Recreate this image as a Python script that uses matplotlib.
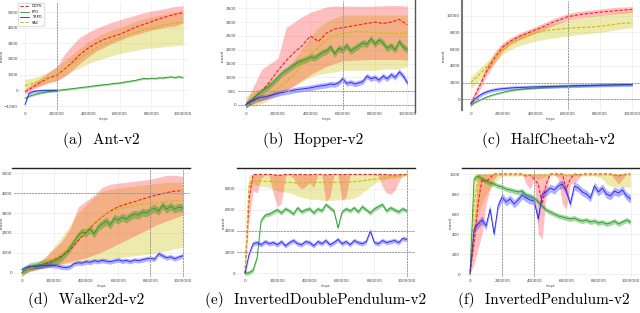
import numpy as np
import matplotlib
matplotlib.use("Agg")
import matplotlib.pyplot as plt

W, H = 640, 313

methods = ["DDPG", "PPO", "TRPO", "SAC"]
captions = ["(a)  Ant-v2", "(b)  Hopper-v2", "(c)  HalfCheetah-v2",
            "(d)  Walker2d-v2", "(e)  InvertedDoublePendulum-v2", "(f)  InvertedPendulum-v2"]
x_ticks = [0, 200000, 400000, 600000, 800000, 1000000]

# ---- Ant-v2 ----
ant_red = [-100, 200, 530, 800, 950, 1350, 1800, 2300, 2700, 3000, 3250, 3420, 3580, 3800, 4030, 4200, 4380, 4560, 4720, 4850, 4950]
ant_red_lo = [-300, 50, 300, 500, 600, 900, 1300, 1750, 2150, 2500, 2750, 3000, 3200, 3400, 3550, 3700, 3850, 3950, 4050, 4100, 4300]
ant_red_hi = [100, 450, 800, 1150, 1500, 2300, 2900, 3400, 3700, 3950, 4150, 4350, 4500, 4650, 4800, 4950, 5050, 5150, 5250, 5350, 5400]
ant_yel = [300, 450, 600, 800, 1000, 1350, 1700, 2050, 2400, 2700, 2950, 3150, 3350, 3550, 3700, 3850, 3950, 4100, 4200, 4300, 4330]
ant_yel_lo = [0, 150, 300, 450, 600, 900, 1200, 1450, 1700, 1900, 2050, 2200, 2350, 2450, 2550, 2650, 2700, 2750, 2800, 2850, 2900]
ant_yel_hi = [700, 800, 950, 1200, 1500, 1900, 2300, 2700, 3100, 3400, 3650, 3850, 4000, 4200, 4400, 4550, 4700, 4800, 4900, 5000, 5100]
ant_green = [-500, -380, -300, -230, -170, -120, -80, -40, -10, 20, 50, 80, 110, 140, 170, 200, 230, 270, 300, 330, 360,
             380, 420, 450, 470, 520, 560, 600, 640, 700, 760, 740, 780, 760, 800, 790, 830, 860, 820, 870, 820]
ant_green_sd = 60
ant_blue = [-900, -200, -80, -40, -20, -10, 0, 0, 0]
ant_blue_end = 200000
ant_blue_sd = 100

# ---- Hopper-v2 ----
hop_red = [0, 250, 500, 850, 1250, 1600, 1900, 2150, 2500, 2300, 2600, 2750, 2800, 2850, 2900, 2950, 3000, 2950, 3000, 3100, 2900]
hop_red_lo = [-100, 50, 150, 300, 450, 550, 700, 900, 1100, 1250, 1400, 1500, 1600, 1620, 1630, 1640, 1650, 1650, 1650, 1650, 1620]
hop_red_hi = [100, 700, 1300, 1500, 1700, 2800, 3000, 3200, 3350, 3450, 3550, 3580, 3580, 3580, 3570, 3570, 3580, 3590, 3600, 3600, 3580]
hop_yel = [0, 100, 250, 400, 600, 850, 1100, 1450, 1800, 2100, 2350, 2500, 2600, 2640, 2650, 2650, 2620, 2600, 2600, 2600, 2600]
hop_yel_lo = [0, -50, 50, 200, 350, 500, 700, 850, 1000, 1100, 1150, 1200, 1250, 1250, 1250, 1250, 1250, 1300, 1300, 1300, 1400]
hop_yel_hi = [300, 500, 600, 750, 1000, 1300, 1650, 2050, 2450, 2800, 3000, 3150, 3250, 3260, 3260, 3260, 3260, 3260, 3260, 3260, 3260]
hop_green = [0, 120, 250, 380, 500, 600, 720, 850, 1000, 1150, 1250, 1350, 1450, 1550, 1600, 1650, 1750, 1700, 1800, 1900, 1950,
             2100, 1850, 2050, 2000, 2150, 1950, 2050, 2150, 2250, 2200, 2400, 2200, 2350, 2250, 2050, 2150, 2000, 2300, 2100, 2000]
hop_green_sd = 120
hop_blue = [0, 100, 180, 240, 280, 300, 340, 380, 420, 450, 480, 500, 540, 560, 580, 600, 620, 650, 680, 700, 720,
            760, 740, 800, 950, 780, 820, 760, 800, 850, 1050, 950, 1000, 900, 1050, 950, 1100, 1000, 1200, 1050, 800]
hop_blue_sd = 100

# ---- HalfCheetah-v2 ----
hc_red = [-600, 1400, 3400, 5000, 6300, 7000, 7500, 7900, 8300, 8700, 9150, 9500, 9870, 10050, 10200, 10300, 10430, 10500, 10600, 10680, 10750]
hc_red_lo = [-1000, 900, 2800, 4400, 5800, 6600, 7100, 7500, 7900, 8300, 8750, 9100, 9450, 9650, 9800, 9900, 10050, 10150, 10250, 10300, 10400]
hc_red_hi = [-200, 1900, 4000, 5700, 6800, 7400, 7900, 8300, 8700, 9100, 9550, 9900, 10250, 10450, 10600, 10700, 10800, 10900, 11000, 11050, 11100]
hc_yel = [2000, 2900, 3900, 5000, 6000, 6700, 7200, 7600, 7900, 8150, 8300, 8400, 8500, 8550, 8600, 8650, 8750, 8850, 9000, 9100, 9150]
hc_yel_lo = [1200, 2200, 3300, 4400, 5400, 6000, 6400, 6700, 6950, 7150, 7300, 7450, 7550, 7700, 7800, 7900, 8000, 8150, 8300, 8450, 8600]
hc_yel_hi = [2700, 3600, 4500, 5500, 6500, 7200, 7700, 8100, 8450, 8750, 9000, 9250, 9450, 9650, 9800, 9950, 10100, 10250, 10400, 10500, 10600]
hc_green = [-700, -400, -150, 80, 280, 450, 600, 720, 850, 950, 1050, 1120, 1180, 1230, 1280, 1320, 1350, 1380, 1410, 1440, 1470,
            1490, 1510, 1530, 1550, 1570, 1590, 1600, 1620, 1630, 1650, 1660, 1680, 1690, 1700, 1710, 1730, 1740, 1750, 1760, 1780]
hc_green_sd = 100
hc_blue = [-450, 0, 400, 700, 900, 1050, 1150, 1230, 1280, 1320, 1360, 1390, 1410, 1430, 1450, 1470, 1490, 1500, 1520, 1540, 1550,
           1560, 1580, 1590, 1600, 1620, 1630, 1640, 1650, 1660, 1670, 1690, 1700, 1710, 1720, 1720, 1730, 1740, 1750, 1740, 1750]
hc_blue_sd = 220

# ---- Walker2d-v2 ----
wk_red = [0, 200, 380, 480, 640, 850, 1140, 1600, 2060, 2450, 2820, 3100, 3320, 3450, 3570, 3700, 3830, 3930, 4030, 4100, 4130]
wk_red_lo = [-100, 50, 150, 250, 350, 450, 550, 650, 750, 900, 1050, 1250, 1450, 1650, 1850, 2050, 2250, 2450, 2600, 2750, 2900]
wk_red_hi = [100, 300, 500, 800, 1200, 1600, 2200, 3300, 3600, 3900, 4300, 4450, 4500, 4550, 4600, 4650, 4700, 4800, 4900, 4900, 4850]
wk_yel = [0, 200, 400, 550, 700, 950, 1300, 1700, 2100, 2500, 2850, 3050, 3200, 3300, 3380, 3440, 3490, 3530, 3570, 3620, 3660]
wk_yel_lo = [-50, 100, 200, 300, 350, 400, 450, 500, 550, 600, 650, 700, 750, 800, 850, 900, 950, 1000, 1100, 1200, 1300]
wk_yel_hi = [100, 300, 500, 800, 1300, 1800, 2400, 3000, 3400, 3800, 4100, 4200, 4250, 4300, 4350, 4400, 4450, 4500, 4550, 4550, 4550]
wk_green = [0, 150, 300, 340, 380, 420, 460, 500, 560, 650, 800, 1000, 1250, 1550, 1850, 2050, 2000, 2200, 1950, 2300, 2450,
            2600, 2400, 2750, 2650, 2800, 2700, 2850, 2950, 2900, 3050, 3000, 3150, 3250, 3100, 3400, 3200, 3350, 3200, 3300, 3250]
wk_green_sd = 200
wk_blue = [150, 250, 300, 320, 330, 350, 370, 380, 360, 330, 280, 260, 300, 450, 500, 480, 550, 520, 600, 560, 620,
           580, 550, 600, 650, 580, 620, 560, 640, 600, 650, 700, 720, 680, 950, 850, 750, 800, 700, 780, 850]
wk_blue_sd = 120

# ---- InvertedDoublePendulum-v2 ----
idp_red = [0, 7000, 9350, 9340, 9350, 9350, 9350, 9340, 9250, 9280, 9350, 9350, 9340, 9320, 9350, 9330, 9320, 9350, 9350, 9350, 9300,
           9340, 9350, 9350, 9330, 9350, 9350, 9350, 9350, 9350, 9350, 9350, 9350, 9350, 9340, 9330, 9300, 9300, 9320, 9350, 9350]
idp_red_lo = [0, 5000, 7800, 7600, 9000, 9300, 9200, 7500, 6300, 6600, 9200, 9300, 9000, 8300, 8000, 8200, 8600, 8100, 9300, 9300, 6800,
              7200, 9300, 9300, 6900, 7200, 9300, 9300, 9300, 9300, 9300, 9300, 9300, 9200, 8200, 7600, 7500, 7800, 8600, 9300, 9300]
idp_red_hi = [0, 8500, 9380, 9380, 9380, 9380, 9380, 9380, 9380, 9380, 9380, 9380, 9380, 9380, 9380, 9380, 9380, 9380, 9380, 9380, 9380,
              9380, 9380, 9380, 9380, 9380, 9380, 9380, 9380, 9380, 9380, 9380, 9380, 9380, 9380, 9380, 9380, 9380, 9380, 9380, 9380]
idp_yel = [0, 8500, 8700, 8750, 8750, 8700, 8700, 8650, 8650, 8600, 8600, 8600, 8550, 8550, 8550, 8550, 8600, 8600, 8600, 8600, 8600,
           8600, 8600, 8600, 8600, 8600, 8650, 8650, 8700, 8750, 8800, 8850, 8900, 8950, 9000, 9050, 9100, 9150, 9200, 9250, 9300]
idp_yel_lo = [0, 8000, 8400, 8300, 8200, 8200, 8100, 7900, 7800, 7700, 7700, 7600, 7500, 7300, 7200, 7100, 7000, 7000, 7000, 6900, 6900,
              6900, 6900, 6950, 6950, 7000, 7000, 7100, 7300, 7600, 7900, 8200, 8500, 8700, 8800, 8900, 9000, 9000, 9050, 9100, 9200]
idp_yel_hi = [0, 9300, 9350, 9350, 9350, 9350, 9350, 9350, 9350, 9350, 9350, 9350, 9350, 9350, 9350, 9350, 9350, 9350, 9350, 9350, 9350,
              9350, 9350, 9350, 9350, 9350, 9350, 9350, 9350, 9350, 9350, 9350, 9350, 9350, 9350, 9350, 9350, 9350, 9350, 9350, 9350]
idp_green = [0, 50, 300, 1500, 5000, 5500, 5600, 5800, 6000, 5700, 6100, 5900, 5600, 6200, 5800, 6000, 6100, 5700, 6100, 5900, 6500,
             6200, 5900, 4300, 5800, 6100, 5900, 6200, 5800, 6300, 6000, 5700, 6100, 6300, 6500, 5900, 6200, 6000, 5800, 6100, 5900]
idp_green_sd = 200
idp_blue = [0, 1800, 2800, 2900, 2700, 3000, 2800, 2900, 2700, 3000, 2600, 2900, 3100, 2800, 2700, 3000, 2900, 2600, 3000, 2800, 3100,
            2700, 2900, 3200, 2800, 3000, 2700, 3100, 2900, 2800, 3000, 4000, 2900, 2800, 3100, 2900, 3000, 3100, 2900, 3300, 3200]
idp_blue_sd = 220

# ---- InvertedPendulum-v2 ----
ip_red = [20, 300, 700, 950, 920, 960, 1000, 1000, 1000, 1000, 1000, 1000, 1000, 1000, 980, 990, 950, 900, 700, 900, 1000,
          1000, 1000, 1000, 850, 950, 1000, 990, 1000, 1000, 1000, 1000, 1000, 1000, 1000, 1000, 990, 980, 990, 1000, 1000]
ip_red_lo = [0, 100, 250, 400, 700, 850, 950, 1000, 1000, 1000, 1000, 1000, 1000, 1000, 900, 850, 950, 400, 350, 800, 1000,
             1000, 950, 700, 650, 900, 900, 950, 1000, 1000, 1000, 1000, 1000, 1000, 1000, 1000, 950, 900, 950, 1000, 1000]
ip_red_hi = [50, 550, 1000, 1000, 1000, 1000, 1000, 1000, 1000, 1000, 1000, 1000, 1000, 1000, 1000, 1000, 1000, 1000, 1000, 1000, 1000,
             1000, 1000, 1000, 1000, 1000, 1000, 1000, 1000, 1000, 1000, 1000, 1000, 1000, 1000, 1000, 1000, 1000, 1000, 1000, 1000]
ip_yel = [20, 700, 950, 980, 990, 990, 990, 990, 990, 990, 990, 990, 990, 990, 990, 990, 990, 990, 990, 990, 990,
          990, 990, 990, 990, 990, 990, 990, 990, 990, 990, 990, 990, 990, 990, 990, 990, 990, 990, 990, 990]
ip_yel_lo = [0, 300, 600, 700, 800, 850, 900, 950, 980, 980, 980, 980, 980, 980, 980, 980, 960, 950, 960, 980, 980,
             980, 980, 980, 980, 980, 980, 980, 980, 980, 980, 980, 970, 950, 900, 880, 870, 870, 870, 870, 870]
ip_yel_hi = [50, 1000, 1000, 1000, 1000, 1000, 1000, 1000, 1000, 1000, 1000, 1000, 1000, 1000, 1000, 1000, 1000, 1000, 1000, 1000, 1000,
             1000, 1000, 1000, 1000, 1000, 1000, 1000, 1000, 1000, 1000, 1000, 1000, 1000, 1000, 1000, 1000, 1000, 1000, 1000, 1000]
ip_green = [0, 950, 980, 950, 930, 910, 900, 880, 870, 850, 840, 830, 820, 830, 790, 780, 760, 720, 680, 640, 620,
            600, 580, 570, 560, 550, 560, 540, 530, 540, 520, 530, 510, 520, 500, 510, 530, 500, 520, 540, 520]
ip_green_sd = 25
ip_blue = [0, 450, 500, 540, 480, 650, 400, 680, 770, 720, 750, 700, 740, 790, 760, 740, 730, 550, 800, 820, 860,
           840, 880, 900, 830, 700, 880, 860, 820, 800, 760, 880, 820, 860, 800, 780, 830, 810, 840, 780, 750]
ip_blue_sd = 40

# layout in pixels: axes rect (left, top, right, bottom), pixel of step 0 and 1e6,
# two y reference values with their pixel rows, and the y-label column
panels = [
    dict(rect=(20, 2, 188, 110), xpx=(25, 183), yref=(-1000, 106, 5000, 12), ylab_px=4,
         yticks=[-1000, 0, 1000, 2000, 3000, 4000, 5000],
         red=(ant_red, ant_red_lo, ant_red_hi), yel=(ant_yel, ant_yel_lo, ant_yel_hi),
         green=(ant_green, ant_green_sd, 1e6), blue=(ant_blue, ant_blue_sd, ant_blue_end),
         vl=[200000], hl=[], legend=True),
    dict(rect=(238, 1, 415, 110), xpx=(245.7, 407.3), yref=(0, 105, 3500, 8.3), ylab_px=225,
         yticks=[0, 500, 1000, 1500, 2000, 2500, 3000, 3500],
         red=(hop_red, hop_red_lo, hop_red_hi), yel=(hop_yel, hop_yel_lo, hop_yel_hi),
         green=(hop_green, hop_green_sd, 1e6), blue=(hop_blue, hop_blue_sd, 1e6),
         vl=[600000], hl=[0, 500], legend=False),
    dict(rect=(462, 1, 640, 110), xpx=(470.7, 632.3), yref=(0, 99.3, 10000, 15.7), ylab_px=446,
         yticks=[0, 2000, 4000, 6000, 8000, 10000],
         red=(hc_red, hc_red_lo, hc_red_hi), yel=(hc_yel, hc_yel_lo, hc_yel_hi),
         green=(hc_green, hc_green_sd, 1e6), blue=(hc_blue, hc_blue_sd, 1e6),
         vl=[600000], hl=[0, 2000], legend=False),
    dict(rect=(14, 169, 190, 277), xpx=(21.7, 182.7), yref=(0, 272.7, 5000, 173.3), ylab_px=4,
         yticks=[0, 1000, 2000, 3000, 4000, 5000],
         red=(wk_red, wk_red_lo, wk_red_hi), yel=(wk_yel, wk_yel_lo, wk_yel_hi),
         green=(wk_green, wk_green_sd, 1e6), blue=(wk_blue, wk_blue_sd, 1e6),
         vl=[800000, 1000000], hl=[4000], legend=False),
    dict(rect=(237, 169, 415, 277), xpx=(245, 406.7), yref=(0, 273.3, 8000, 188.7), ylab_px=226,
         yticks=[0, 2000, 4000, 6000, 8000],
         red=(idp_red, idp_red_lo, idp_red_hi), yel=(idp_yel, idp_yel_lo, idp_yel_hi),
         green=(idp_green, idp_green_sd, 1e6), blue=(idp_blue, idp_blue_sd, 1e6),
         vl=[1000000], hl=[2000, 4000], legend=False),
    dict(rect=(462, 169, 640, 277), xpx=(470, 630.5), yref=(0, 274, 1000, 174), ylab_px=453,
         yticks=[0, 200, 400, 600, 800, 1000],
         red=(ip_red, ip_red_lo, ip_red_hi), yel=(ip_yel, ip_yel_lo, ip_yel_hi),
         green=(ip_green, ip_green_sd, 1e6), blue=(ip_blue, ip_blue_sd, 1e6),
         vl=[200000, 400000], hl=[], legend=False),
]
caption_pos = [(101, 140), (313, 140), (548, 140), (86, 300), (316, 300), (544, 300)]

RED, YEL, GREEN, BLUE = "#ff1a1a", "#c8c000", "#1f9e1f", "#2020ff"


def steps(vals, end=1e6):
    return np.linspace(0, end, len(vals))


fig = plt.figure(figsize=(W / 100, H / 100), dpi=100)

for p, cap, (cx, cy) in zip(panels, captions, caption_pos):
    l, t, r, b = p["rect"]
    ax = fig.add_axes([l / W, 1 - b / H, (r - l) / W, (b - t) / H])

    # limits from pixel calibration
    x0, x1 = p["xpx"]
    sx = (x1 - x0) / 1e6
    ax.set_xlim((l - x0) / sx, (r - x0) / sx)
    va, pa, vb, pb = p["yref"]
    sy = (pa - pb) / (vb - va)
    ax.set_ylim(va + (pa - b) / sy, va + (pa - t) / sy)

    yv, ylo, yhi = p["yel"]
    ax.fill_between(steps(yv), ylo, yhi, color=YEL, alpha=0.32, lw=0)
    rv, rlo, rhi = p["red"]
    ax.fill_between(steps(rv), rlo, rhi, color=RED, alpha=0.28, lw=0)

    gv, gsd, gend = p["green"]
    g = np.array(gv, float)
    xg = steps(gv, gend)
    ax.fill_between(xg, g - gsd, g + gsd, color=GREEN, alpha=0.4, lw=0)
    bv, bsd, bend = p["blue"]
    bb = np.array(bv, float)
    xb = steps(bv, bend)
    ax.fill_between(xb, bb - bsd, bb + bsd, color=BLUE, alpha=0.35, lw=0)

    h_red, = ax.plot(steps(rv), rv, color=RED, lw=0.8, ls=(0, (3, 1.5)))
    h_yel, = ax.plot(steps(yv), yv, color=YEL, lw=0.8, ls=(0, (3, 1.5)))
    h_green, = ax.plot(xg, gv, color=GREEN, lw=0.6)
    h_blue, = ax.plot(xb, bv, color=BLUE, lw=0.6)

    for v in p["vl"]:
        ax.axvline(v, color="#999999", lw=0.7, ls=(0, (2, 1)))
    for v in p["hl"]:
        ax.axhline(v, color="#999999", lw=0.7, ls=(0, (2, 1)))

    ax.set_xticks(x_ticks)
    ax.set_xticklabels([str(v) for v in x_ticks])
    ax.set_yticks(p["yticks"])
    ax.tick_params(length=0, labelsize=3, pad=1.5, colors="#444444")
    ax.grid(True, color="#ececec", lw=0.5)
    ax.set_axisbelow(True)
    for s in ax.spines.values():
        s.set_visible(False)
    ax.set_xlabel("steps", fontsize=2.5, labelpad=0.5, color="#444444")
    ax.set_ylabel("reward", fontsize=2.5, color="#444444")
    ax.yaxis.set_label_coords((p["ylab_px"] - l) / (r - l), 0.5)

    if p["legend"]:
        ax.legend([h_red, h_green, h_blue, h_yel], methods, loc="upper left",
                  fontsize=2.5, handlelength=2.5, borderpad=0.5, labelspacing=0.4,
                  frameon=True, edgecolor="#dddddd", fancybox=False,
                  bbox_to_anchor=(-0.02, 1.01))

    fig.text(cx / W, 1 - cy / H, cap, fontsize=11, family="cmr10",
             ha="center", va="center")

# separator lines seen around the panels
fig.add_artist(plt.Line2D([415 / W, 415 / W], [1 - 112 / H, 1.0], color="#555555", lw=1.0))
fig.add_artist(plt.Line2D([462 / W, 462 / W], [1 - 110 / H, 1.0], color="#777777", lw=1.5))
for xa, xb_ in [(12, 190), (237, 415), (462, 640)]:
    fig.add_artist(plt.Line2D([xa / W, xb_ / W], [1 - 168 / H] * 2, color="#222222", lw=1.0))

fig.savefig("out.png", dpi=100)
